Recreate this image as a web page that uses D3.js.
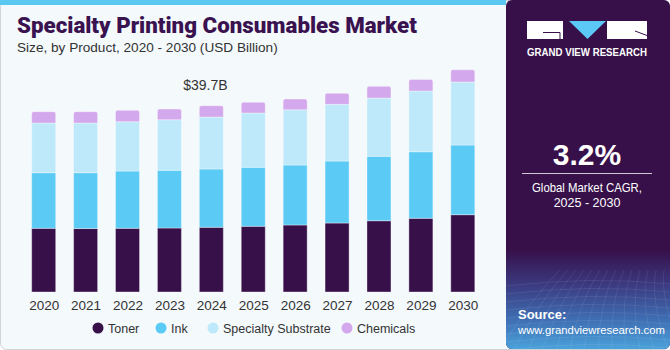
<!doctype html>
<html>
  <head>
    <script src="https://cdn.jsdelivr.net/npm/d3@7"></script>
    <style>
      body { margin:0; background:#fff; }
      svg { display:block; font-family:"Liberation Sans", Arial, sans-serif; }
    </style>
  </head>
  <body>
    <svg id="chart" width="670" height="350"></svg>
    <script>
      // values (USD Billion)
      const years = ["2020","2021","2022","2023","2024","2025","2026","2027","2028","2029","2030"];
      const toner = [13.57, 13.53, 13.57, 13.64, 13.79, 14.00, 14.28, 14.70, 15.19, 15.70, 16.47];
      const ink = [11.85, 11.89, 12.21, 12.29, 12.42, 12.57, 12.78, 13.21, 13.72, 14.19, 14.85];
      const substrate = [10.59, 10.59, 10.50, 10.78, 11.08, 11.57, 11.78, 12.08, 12.42, 12.93, 13.42];
      const chemicals = [2.41, 2.41, 2.43, 2.28, 2.41, 2.28, 2.28, 2.34, 2.49, 2.49, 2.62];
      const seriesNames = ["Toner", "Ink", "Specialty Substrate", "Chemicals"];
      const colors = ["#37104a", "#5bcbf5", "#bde9fa", "#d4a8ec"];
      const labelYear = "2024";
      const labelText = "$39.7B";

      const svg = d3.select("#chart");

      // card backgrounds
      svg.append("rect").attr("x", 0.5).attr("y", 0.5).attr("width", 669).attr("height", 349)
        .attr("rx", 6).style("fill", "#f4f9fc").style("stroke", "#cfd4d8");
      svg.append("rect").attr("x", 0).attr("y", 0).attr("width", 506).attr("height", 5)
        .style("fill", "#5bc8f2");

      // right panel
      const defs = svg.append("defs");
      const grad = defs.append("linearGradient").attr("id", "srcGrad")
        .attr("x1", 0).attr("y1", 0).attr("x2", 0).attr("y2", 1);
      grad.append("stop").attr("offset", "0%").attr("stop-color", "#37104a");
      grad.append("stop").attr("offset", "35%").attr("stop-color", "#3b3a80");
      grad.append("stop").attr("offset", "70%").attr("stop-color", "#3f6fb4");
      grad.append("stop").attr("offset", "100%").attr("stop-color", "#4aa3dc");
      defs.append("clipPath").attr("id", "panelClip")
        .append("rect").attr("x", 506).attr("y", 0).attr("width", 164).attr("height", 349).attr("rx", 6);

      const panel = svg.append("g").attr("clip-path", "url(#panelClip)");
      panel.append("rect").attr("x", 506).attr("y", 0).attr("width", 170).attr("height", 350)
        .style("fill", "#37104a");
      panel.append("rect").attr("x", 506).attr("y", 250).attr("width", 170).attr("height", 100)
        .style("fill", "url(#srcGrad)");
      // faint grid texture in source area
      const tex = panel.append("g").style("stroke", "#ffffff").style("stroke-opacity", 0.12)
        .style("stroke-width", 0.7).style("fill", "none");
      d3.range(0, 14).forEach(i => {
        tex.append("path").attr("d", `M${500 + i * 14},350 Q${530 + i * 10},300 ${560 + i * 8},270`);
      });
      d3.range(0, 9).forEach(i => {
        const yy = 280 + i * 8;
        tex.append("path").attr("d", `M506,${yy + 6} Q590,${yy - 4} 670,${yy + 4}`);
      });

      // logo
      const logo = svg.append("g");
      logo.append("rect").attr("x", 527).attr("y", 21).attr("width", 36).attr("height", 18).style("fill", "#fff");
      logo.append("path").attr("d", "M543,32.5 H560 V39").style("stroke", "#37104a").style("stroke-width", 1).style("fill", "none");
      logo.append("path").attr("d", "M569,21 H606 L587.5,39 Z").style("fill", "#5bc8f5");
      logo.append("rect").attr("x", 607).attr("y", 21).attr("width", 40).attr("height", 18).style("fill", "#fff");
      logo.append("path").attr("d", "M635,31 L647,35.5").style("stroke", "#37104a").style("stroke-width", 1);
      logo.append("text").attr("x", 587).attr("y", 56).attr("text-anchor", "middle")
        .attr("textLength", 120).attr("lengthAdjust", "spacingAndGlyphs")
        .style("fill", "#fff").style("font-size", "10px").style("font-weight", "bold")
        .text("GRAND VIEW RESEARCH");

      // CAGR
      svg.append("text").attr("x", 587).attr("y", 165).attr("text-anchor", "middle")
        .style("fill", "#fff").style("font-size", "30px").style("font-weight", "bold").text("3.2%");
      svg.append("line").attr("x1", 522).attr("x2", 652).attr("y1", 173.5).attr("y2", 173.5)
        .style("stroke", "#cfc6d6").style("stroke-width", 1);
      svg.append("text").attr("x", 587).attr("y", 192).attr("text-anchor", "middle")
        .attr("textLength", 110).attr("lengthAdjust", "spacingAndGlyphs")
        .style("fill", "#fff").style("font-size", "13px").text("Global Market CAGR,");
      svg.append("text").attr("x", 587).attr("y", 207).attr("text-anchor", "middle")
        .style("fill", "#fff").style("font-size", "12.5px").text("2025 - 2030");

      // source
      svg.append("text").attr("x", 518).attr("y", 319).style("fill", "#fff")
        .style("font-size", "13px").style("font-weight", "bold").text("Source:");
      svg.append("text").attr("x", 518).attr("y", 334).style("fill", "#fff")
        .style("font-size", "11.3px").text("www.grandviewresearch.com");

      // title
      svg.append("text").attr("x", 17).attr("y", 33).style("fill", "#3a1250")
        .style("font-size", "22.3px").style("font-weight", "900").style("font-family", "Roboto, 'Liberation Sans', sans-serif")
        .text("Specialty Printing Consumables Market");
      svg.append("text").attr("x", 17).attr("y", 52).style("fill", "#333")
        .style("font-size", "13.6px").text("Size, by Product, 2020 - 2030 (USD Billion)");

      // chart
      const data = years.map((y, i) => ({
        year: y, Toner: toner[i], Ink: ink[i], "Specialty Substrate": substrate[i], Chemicals: chemicals[i]
      }));
      const stack = d3.stack().keys(seriesNames)(data);

      const xScale = d3.scalePoint().domain(years).range([43.7, 462.8]);
      const yScale = d3.scaleLinear().domain([0, 40]).range([292, 104.3]);
      const barW = 24;

      const layers = svg.append("g").selectAll("g.layer")
        .data(stack).enter()
        .append("g").attr("class", "layer")
        .style("fill", (d, i) => colors[i]);

      layers.selectAll("path")
        .data((d, i) => d.map(p => ({ p: p, top: i === stack.length - 1 })))
        .enter()
        .append("path")
          .attr("d", d => {
            const x0 = xScale(d.p.data.year) - barW / 2, x1 = x0 + barW;
            const y0 = yScale(d.p[0]), y1 = yScale(d.p[1]);
            if (!d.top) return `M${x0},${y0}V${y1}H${x1}V${y0}Z`;
            const r = 2;
            return `M${x0},${y0}V${y1 + r}Q${x0},${y1} ${x0 + r},${y1}H${x1 - r}Q${x1},${y1} ${x1},${y1 + r}V${y0}Z`;
          })
          .style("stroke", "#ffffff").style("stroke-opacity", 0.45).style("stroke-width", 0.8);

      // total label
      const li = years.indexOf(labelYear);
      const total = toner[li] + ink[li] + substrate[li] + chemicals[li];
      svg.append("text").attr("x", xScale(labelYear) - 6).attr("y", yScale(total) - 16)
        .attr("text-anchor", "middle").style("fill", "#333").style("font-size", "14px").text(labelText);

      // x axis
      const xAxis = d3.axisBottom(xScale).tickSize(0).tickPadding(8);
      const gx = svg.append("g").attr("transform", "translate(0,292)").call(xAxis);
      gx.select(".domain").remove();
      gx.selectAll("text").style("font-size", "13.5px").style("fill", "#333")
        .style("font-family", "'Liberation Sans', Arial, sans-serif");

      // legend
      const legendX = [98, 161, 213, 347];
      const lg = svg.append("g").selectAll("g.leg").data(seriesNames).enter()
        .append("g").attr("transform", (d, i) => `translate(${legendX[i]},328)`);
      lg.append("circle").attr("r", 5.5).style("fill", (d, i) => colors[i]);
      lg.append("text").attr("x", 10).attr("y", 4.5).style("font-size", "12.5px").style("fill", "#333").text(d => d);
    </script>
  </body>
</html>
